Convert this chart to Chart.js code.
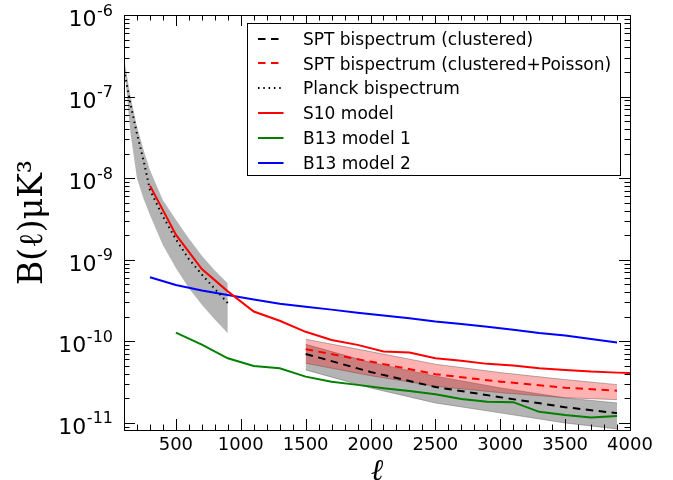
<!DOCTYPE html>
<html>
<head>
<meta charset="utf-8">
<script src="https://cdn.jsdelivr.net/npm/chart.js@4.4.1/dist/chart.umd.min.js"></script>
<style>
html,body{margin:0;padding:0;background:#fff;}
#wrap{width:673px;height:480px;}
</style>
</head>
<body>
<div id="wrap"><canvas id="c" width="673" height="480"></canvas></div>
<script>
// ---------------- data ----------------
const planckL     = [100, 150, 200, 250, 300, 400, 500, 600, 700, 800, 900];
const planckB     = [2.14e-7, 8.1e-8, 3.5e-8, 1.66e-8, 7.2e-9, 3.4e-9, 1.78e-9, 1.02e-9, 6.6e-10, 4.4e-10, 2.95e-10];
const planckUpper = [2.95e-7, 1.0e-7, 4.27e-8, 2.24e-8, 1.26e-8, 5.37e-9, 3.09e-9, 1.82e-9, 1.12e-9, 7.41e-10, 5.13e-10];
const planckLower = [2.51e-7, 3.55e-8, 1.0e-8, 5.62e-9, 3.55e-9, 1.51e-9, 7.94e-10, 4.47e-10, 2.82e-10, 1.86e-10, 1.26e-10];

const s10L = [300, 500, 700, 900, 1100, 1300, 1500, 1700, 1900, 2100, 2300, 2500, 2700, 2900, 3100, 3300, 3500, 3700, 3900, 4000];
const s10B = [8.1e-9, 2.03e-9, 7.7e-10, 4.1e-10, 2.32e-10, 1.79e-10, 1.31e-10, 1.04e-10, 9.06e-11, 7.5e-11, 7.3e-11, 6.2e-11, 5.8e-11, 5.3e-11, 5.05e-11, 4.7e-11, 4.47e-11, 4.26e-11, 4.14e-11, 4.1e-11];

const b13m1L = [500, 700, 900, 1100, 1300, 1500, 1700, 1900, 2100, 2300, 2500, 2700, 2900, 3100, 3300, 3500, 3700, 3900];
const b13m1B = [1.28e-10, 9.1e-11, 6.2e-11, 5.0e-11, 4.67e-11, 3.7e-11, 3.2e-11, 2.93e-11, 2.67e-11, 2.47e-11, 2.25e-11, 1.97e-11, 1.82e-11, 1.8e-11, 1.37e-11, 1.25e-11, 1.17e-11, 1.22e-11];

const b13m2L = [300, 500, 700, 900, 1100, 1300, 1500, 1700, 1900, 2100, 2300, 2500, 2700, 2900, 3100, 3300, 3500, 3700, 3900];
const b13m2B = [6.1e-10, 4.9e-10, 4.2e-10, 3.7e-10, 3.25e-10, 2.9e-10, 2.65e-10, 2.45e-10, 2.25e-10, 2.08e-10, 1.92e-10, 1.75e-10, 1.63e-10, 1.51e-10, 1.39e-10, 1.27e-10, 1.18e-10, 1.07e-10, 9.7e-11];

const sptL               = [1500, 2000, 2500, 3000, 3500, 3900];
const sptClustered       = [7.02e-11, 4.22e-11, 2.76e-11, 2.07e-11, 1.56e-11, 1.32e-11];
const sptClusteredUpper  = [9.19e-11, 5.52e-11, 3.75e-11, 2.69e-11, 2.03e-11, 1.76e-11];
const sptClusteredLower  = [4.47e-11, 2.69e-11, 1.76e-11, 1.33e-11, 1.0e-11, 8.44e-12];
const sptPoisson         = [8.02e-11, 5.65e-11, 3.96e-11, 3.21e-11, 2.71e-11, 2.49e-11];
const sptPoissonUpper    = [1.064e-10, 7.49e-11, 5.25e-11, 4.14e-11, 3.40e-11, 2.95e-11];
const sptPoissonLower    = [5.40e-11, 3.80e-11, 2.82e-11, 2.35e-11, 2.04e-11, 1.93e-11];

const xTickValues = [500, 1000, 1500, 2000, 2500, 3000, 3500, 4000];
const yTickExponents = [-11, -10, -9, -8, -7, -6];

const legendLabels = ['SPT bispectrum (clustered)', 'SPT bispectrum (clustered+Poisson)', 'Planck bispectrum', 'S10 model', 'B13 model 1', 'B13 model 2'];
const yTitle = 'B(\u2113)\u03bcK\u00b3';
const xTitle = '\u2113';

// ---------------- helpers ----------------
function pts(xs, ys) { return xs.map((x, i) => ({x: x, y: ys[i]})); }

const line = (label, xs, ys, color, dash, order) => ({
  label, data: pts(xs, ys), borderColor: color, backgroundColor: color,
  borderWidth: 2, borderDash: dash, pointRadius: 0, fill: false, tension: 0, order, inLegend: true
});
const band = (xs, ys, fillTo, fillColor, edge, order) => ({
  label: '', data: pts(xs, ys), borderColor: edge || 'rgba(0,0,0,0)', borderWidth: edge ? 1 : 0,
  backgroundColor: fillColor, pointRadius: 0, tension: 0, order,
  fill: fillTo === null ? false : {target: fillTo}, inLegend: false
});

const GREY = 'rgba(105,105,105,0.5)';
const PINK = 'rgba(255,0,0,0.3)';
const EDGE = 'rgba(90,90,90,0.45)';

const datasets = [
  line(legendLabels[0], sptL, sptClustered, '#000000', [7.5, 5.5], 0),
  line(legendLabels[1], sptL, sptPoisson, '#ff0000', [7.5, 5.5], 1),
  line(legendLabels[2], planckL, planckB, '#000000', [1.5, 3.8], 2),
  line(legendLabels[3], s10L, s10B, '#ff0000', [], 3),
  line(legendLabels[4], b13m1L, b13m1B, '#008000', [], 4),
  line(legendLabels[5], b13m2L, b13m2B, '#0000ff', [], 5),
  band(sptL, sptClusteredUpper, 7, GREY, EDGE, 21),
  band(sptL, sptClusteredLower, null, GREY, EDGE, 21),
  band(sptL, sptPoissonUpper, 9, PINK, EDGE, 20),
  band(sptL, sptPoissonLower, null, PINK, EDGE, 20),
  band(planckL, planckUpper, 11, GREY, null, 22),
  band(planckL, planckLower, null, GREY, null, 22)
];

// ---------------- plugins: frame, inward ticks, y labels, legend ----------------
const axesDecor = {
  id: 'axesDecor',
  afterDatasetsDraw(chart) {
    const ctx = chart.ctx, ca = chart.chartArea;
    const xs = chart.scales.x, ys = chart.scales.y;
    ctx.save();
    ctx.strokeStyle = '#000'; ctx.lineWidth = 1;
    for (let v = Math.ceil(xs.min / 100) * 100; v <= xs.max; v += 100) {
      const px = Math.round(xs.getPixelForValue(v)) + 0.5;
      const len = (v % 500 === 0) ? 11 : 5.5;
      ctx.beginPath();
      ctx.moveTo(px, ca.bottom); ctx.lineTo(px, ca.bottom - len);
      ctx.moveTo(px, ca.top); ctx.lineTo(px, ca.top + len);
      ctx.stroke();
    }
    for (let e = -12; e <= -6; e++) {
      for (let m = 1; m <= 9; m++) {
        const v = m * Math.pow(10, e);
        if (v < ys.min * 0.999 || v > ys.max * 1.001) continue;
        const py = Math.round(ys.getPixelForValue(v)) + 0.5;
        const len = (m === 1) ? 11 : 5.5;
        ctx.beginPath();
        ctx.moveTo(ca.left, py); ctx.lineTo(ca.left + len, py);
        ctx.moveTo(ca.right, py); ctx.lineTo(ca.right - len, py);
        ctx.stroke();
      }
    }
    ctx.strokeRect(Math.round(ca.left) + 0.5, Math.round(ca.top) + 0.5,
                   Math.round(ca.right - ca.left), Math.round(ca.bottom - ca.top));
    // y tick labels 10^e
    ctx.fillStyle = '#000';
    ctx.textBaseline = 'alphabetic';
    ctx.textAlign = 'right';
    const xr = ca.left - 11;
    yTickExponents.forEach(e => {
      const py = ys.getPixelForValue(Math.pow(10, e));
      const expTxt = '-' + String(Math.abs(e));
      ctx.font = '16px "DejaVu Sans"';
      const ew = ctx.measureText(expTxt).width;
      ctx.fillText(expTxt, xr, py + 0.5);
      ctx.font = '22px "DejaVu Sans"';
      ctx.fillText('10', xr - ew - 0.5, py + 11);
    });
    ctx.restore();
  },
  afterDraw(chart) {
    const ctx = chart.ctx, ca = chart.chartArea;
    const x0 = Math.round(ca.left + 123) + 0.5, y0 = Math.round(ca.top + 8) + 0.5;
    const x1 = Math.round(ca.right - 10) + 0.5, h = 152;
    ctx.save();
    ctx.fillStyle = '#fff';
    ctx.fillRect(x0, y0, x1 - x0, h);
    ctx.strokeStyle = '#000'; ctx.lineWidth = 1;
    ctx.strokeRect(x0, y0, x1 - x0, h);
    const items = chart.data.datasets.filter(d => d.inLegend);
    ctx.font = '17px "DejaVu Sans"';
    ctx.textAlign = 'left'; ctx.textBaseline = 'alphabetic';
    items.forEach((d, i) => {
      const cy = y0 + 15 + i * 24.8;
      ctx.beginPath();
      ctx.setLineDash(d.borderDash || []);
      ctx.strokeStyle = d.borderColor; ctx.lineWidth = d.borderWidth;
      ctx.moveTo(x0 + 10.5, Math.round(cy)); ctx.lineTo(x0 + 36, Math.round(cy));
      ctx.stroke();
      ctx.setLineDash([]);
      ctx.fillStyle = '#000';
      ctx.fillText(d.label, x0 + 55.5, cy + 6.2);
    });
    ctx.restore();
  }
};

new Chart(document.getElementById('c'), {
  type: 'line',
  data: {datasets},
  options: {
    responsive: false, animation: false, events: [],
    devicePixelRatio: 1,
    layout: {padding: {left: 0, top: 15, right: 43, bottom: 0}},
    plugins: {legend: {display: false}, tooltip: {enabled: false}, filler: {propagate: false}},
    scales: {
      x: {
        type: 'linear', min: 100, max: 4000,
        grid: {display: false, drawTicks: false}, border: {display: false},
        afterBuildTicks: s => { s.ticks = xTickValues.map(v => ({value: v})); },
        ticks: {autoSkip: false, maxRotation: 0, minRotation: 0,
                color: '#000', padding: 5, font: {family: 'DejaVu Sans', size: 18},
                callback: v => String(v)},
        title: {display: true, text: xTitle, color: '#000',
                font: {family: 'DejaVu Serif', size: 30, style: 'italic'}, padding: {top: 0, bottom: -10}},
        afterFit: s => { s.height = 50; }
      },
      y: {
        type: 'logarithmic', min: 8.2e-12, max: 1e-6,
        grid: {display: false, drawTicks: false}, border: {display: false},
        ticks: {display: false},
        title: {display: true, text: yTitle, color: '#000',
                font: {family: 'DejaVu Serif', size: 33}, padding: {top: 14, bottom: 0}},
        afterFit: s => { s.width = 124; }
      }
    }
  },
  plugins: [axesDecor]
});
</script>
</body>
</html>
